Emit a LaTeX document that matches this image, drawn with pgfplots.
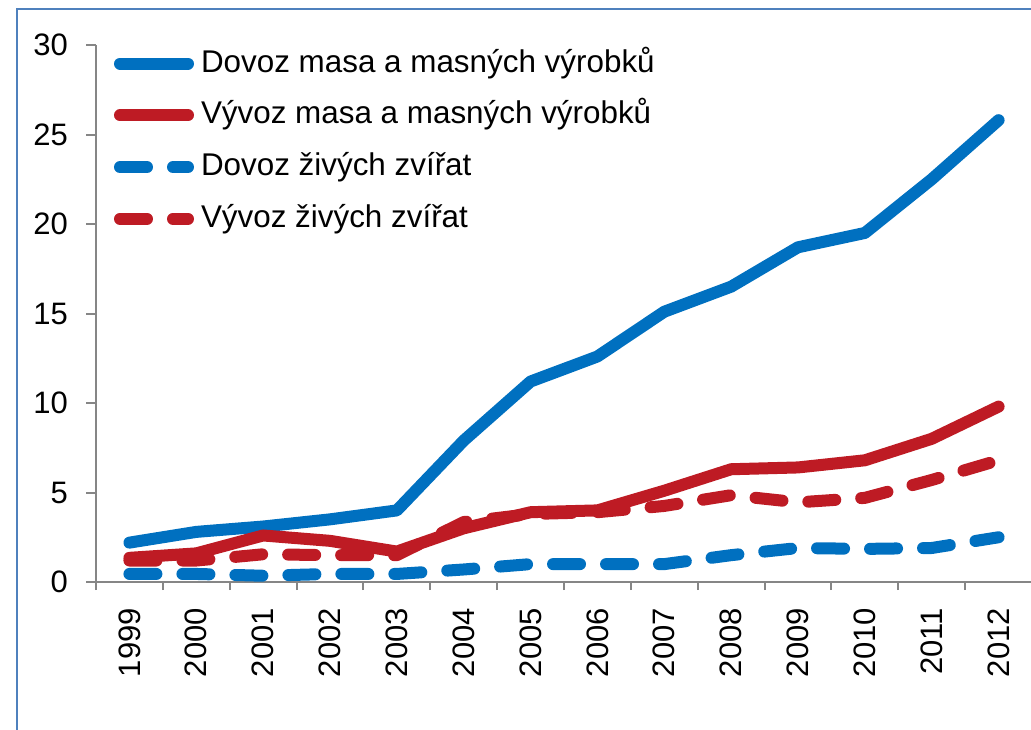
\documentclass[border=0pt]{standalone}
\usepackage{pgfplots}
\pgfplotsset{compat=1.18}
\usepackage{fontspec}
\setmainfont{Liberation Sans}
\definecolor{cblue}{HTML}{0070C0}
\definecolor{cred}{HTML}{BE1B24}
\definecolor{axisgray}{HTML}{868686}
\definecolor{frameblue}{HTML}{4F81BD}
\pgfplotstableread{
x dm vm dz vz
0 2.2 1.35 0.45 1.2
1 2.8 1.6 0.45 1.2
2 3.1 2.6 0.35 1.55
3 3.5 2.3 0.45 1.5
4 4.0 1.7 0.45 1.5
5 7.9 3.0 0.7 3.35
6 11.2 3.9 1.0 3.8
7 12.6 4.0 1.0 3.9
8 15.1 5.1 1.0 4.25
9 16.5 6.3 1.5 4.85
10 18.7 6.4 1.9 4.45
11 19.5 6.8 1.85 4.7
12 22.5 8.0 1.9 5.7
13 25.8 9.8 2.5 6.8
}\datatable
\begin{document}
\begin{tikzpicture}
\clip (0pt,0pt) rectangle (515.5pt,364.5pt);
\draw[frameblue, line width=1pt] (8.5pt,-40pt) -- (8.5pt,360pt) -- (600pt,360pt);
\begin{axis}[
  at={(48pt,73.5pt)}, anchor=south west, scale only axis,
  width=468pt, height=268.5pt,
  xmin=-0.5, xmax=13.5, ymin=0, ymax=30,
  clip=false,
  axis lines=left,
  axis line style={-, draw=axisgray, line width=1pt},
  tick align=outside,
  ytick={0,5,...,30},
  major tick length=5pt,
  y tick style={draw=axisgray, line width=1pt},
  xtick={0,...,13},
  xticklabels={1999,2000,2001,2002,2003,2004,2005,2006,2007,2008,2009,2010,2011,2012},
  major x tick style={draw=none},
  minor xtick={-0.5,0.5,...,13.5},
  minor tick length=4pt,
  minor x tick style={draw=axisgray, line width=1pt},
  tick label style={font=\fontsize{15.5}{17}\selectfont, text=black},
  xticklabel style={rotate=90, anchor=east, xshift=-4.5pt},
  yticklabel style={xshift=-5.5pt},
  /pgf/number format/assume math mode=true,
  legend cell align=left,
  legend style={draw=none, fill=none, at={(0,1)}, anchor=north west,
    inner sep=0pt, outer sep=0pt,
    xshift=9pt, yshift=-1.5pt,
    font=\fontsize{15.7}{17}\selectfont,
    nodes={inner sep=0pt, outer sep=0pt, text height=12pt, text depth=3.5pt},
    row sep=10.4pt, column sep=0pt},
  legend image code/.code={\draw[#1] (0pt,0pt) -- (34pt,0pt);},
  every axis plot/.append style={line width=6pt, line cap=round, line join=round},
]
\addplot[cblue] table[x=x,y=dm]{\datatable};
\addlegendentry{\hspace{3.5pt}Dovoz masa a masných výrobků}
\addplot[cred] table[x=x,y=vm]{\datatable};
\addlegendentry{\hspace{3.5pt}Vývoz masa a masných výrobků}
\addplot[cblue, dash pattern=on 13.5pt off 13pt] table[x=x,y=dz]{\datatable};
\addlegendentry{\hspace{3.5pt}Dovoz živých zvířat}
\addplot[cred, dash pattern=on 13.5pt off 13pt] table[x=x,y=vz]{\datatable};
\addlegendentry{\hspace{3.5pt}Vývoz živých zvířat}
\end{axis}
\end{tikzpicture}
\end{document}
